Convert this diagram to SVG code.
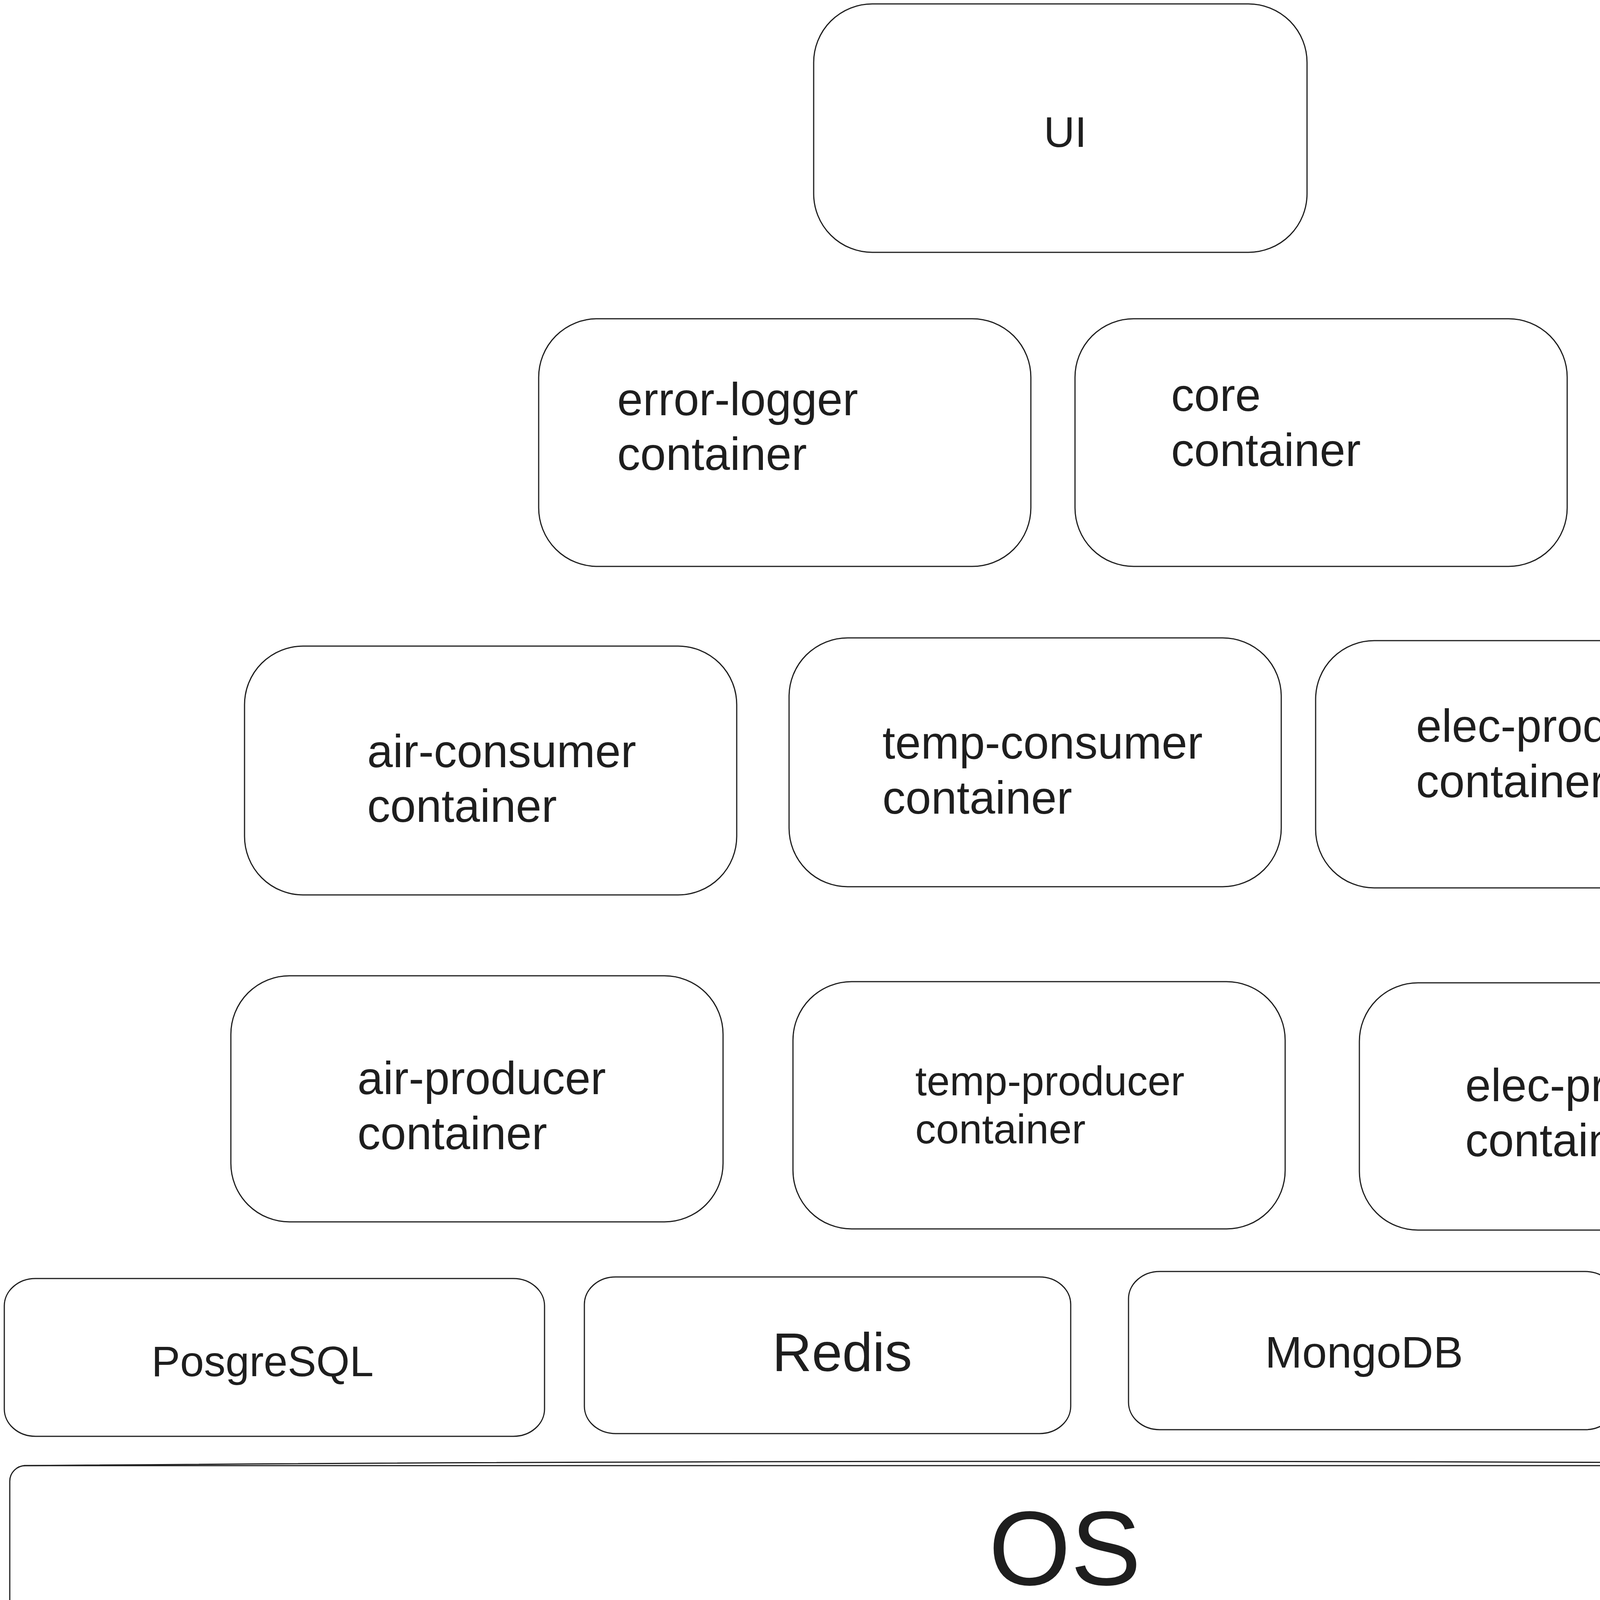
<svg xmlns="http://www.w3.org/2000/svg" width="5518" height="4186" viewBox="0 0 5518 4186">
<style>
.box{fill:#ffffff;stroke:#1e1e1e;stroke-width:3}
.edge{fill:none;stroke:#1e1e1e;stroke-width:3}
.t{font-family:"Liberation Sans","DejaVu Sans",sans-serif;fill:#1e1e1e}
.c{font-size:118px}
.m{text-anchor:middle}
</style>
<rect width="5518" height="4186" fill="#ffffff"/>
<g id="ui">
<rect class="box" x="2083" y="10" width="1263" height="636" rx="150" ry="150"/>
<text class="t m" x="2727" y="376" font-size="110">UI</text>
</g>
<g id="error-logger">
<rect class="box" x="1379" y="816" width="1260" height="634" rx="150" ry="150"/>
<text class="t c" x="1580" y="1063">error-logger</text>
<text class="t c" x="1580" y="1203">container</text>
</g>
<g id="core">
<rect class="box" x="2752" y="816" width="1260" height="634" rx="150" ry="150"/>
<text class="t c" x="2998" y="1052">core</text>
<text class="t c" x="2998" y="1193">container</text>
</g>
<g id="air-consumer">
<rect class="box" x="626" y="1654" width="1260" height="637" rx="150" ry="150"/>
<text class="t c" x="940" y="1964">air-consumer</text>
<text class="t c" x="940" y="2104">container</text>
</g>
<g id="temp-consumer">
<rect class="box" x="2020" y="1633" width="1260" height="637" rx="150" ry="150"/>
<text class="t c" x="2259" y="1942">temp-consumer</text>
<text class="t c" x="2259" y="2083">container</text>
</g>
<g id="elec-producer-1">
<rect class="box" x="3368" y="1640" width="1259" height="633" rx="150" ry="150"/>
<text class="t c" x="3625" y="1899">elec-producer</text>
<text class="t c" x="3625" y="2041">container</text>
</g>
<g id="air-producer">
<rect class="box" x="591" y="2498" width="1260" height="630" rx="150" ry="150"/>
<text class="t c" x="915" y="2801">air-producer</text>
<text class="t c" x="915" y="2942">container</text>
</g>
<g id="temp-producer">
<rect class="box" x="2030" y="2513" width="1260" height="633" rx="150" ry="150"/>
<text class="t" x="2343" y="2804" font-size="106">temp-producer</text>
<text class="t" x="2343" y="2927" font-size="106">container</text>
</g>
<g id="elec-producer-2">
<rect class="box" x="3480" y="2516" width="1260" height="633" rx="150" ry="150"/>
<text class="t c" x="3751" y="2819">elec-producer</text>
<text class="t c" x="3751" y="2960">container</text>
</g>
<g id="postgresql">
<rect class="box" x="11" y="3273" width="1383" height="404" rx="80" ry="70"/>
<text class="t m" x="672" y="3523" font-size="110">PosgreSQL</text>
</g>
<g id="redis">
<rect class="box" x="1496" y="3269" width="1245" height="401" rx="80" ry="70"/>
<text class="t m" x="2156" y="3510" font-size="140">Redis</text>
</g>
<g id="mongodb">
<rect class="box" x="2889" y="3255" width="1249" height="405" rx="80" ry="70"/>
<text class="t m" x="3492" y="3501" font-size="114">MongoDB</text>
</g>
<g id="kafka">
<rect class="box" x="4251" y="3269" width="1247" height="401" rx="80" ry="70"/>
<text class="t m" x="4858" y="3416" font-size="112">Kafka</text>
<text class="t m" x="4827" y="3591" font-size="84">Zookeeper</text>
</g>
<g id="os">
<rect class="box" x="25" y="3752" width="5479" height="408" rx="40" ry="40"/>
<path class="edge" d="M60 3752 Q2765 3730 5470 3752"/>
<path class="edge" d="M60 4160 Q2765 4182 5470 4160"/>
<text class="t m" x="2726" y="4057" font-size="270">OS</text>
</g>
<g id="connectors">
<line x1="4240" y1="3484" x2="5508" y2="3484" stroke="#1e1e1e" stroke-width="3"/>
</g>
</svg>
